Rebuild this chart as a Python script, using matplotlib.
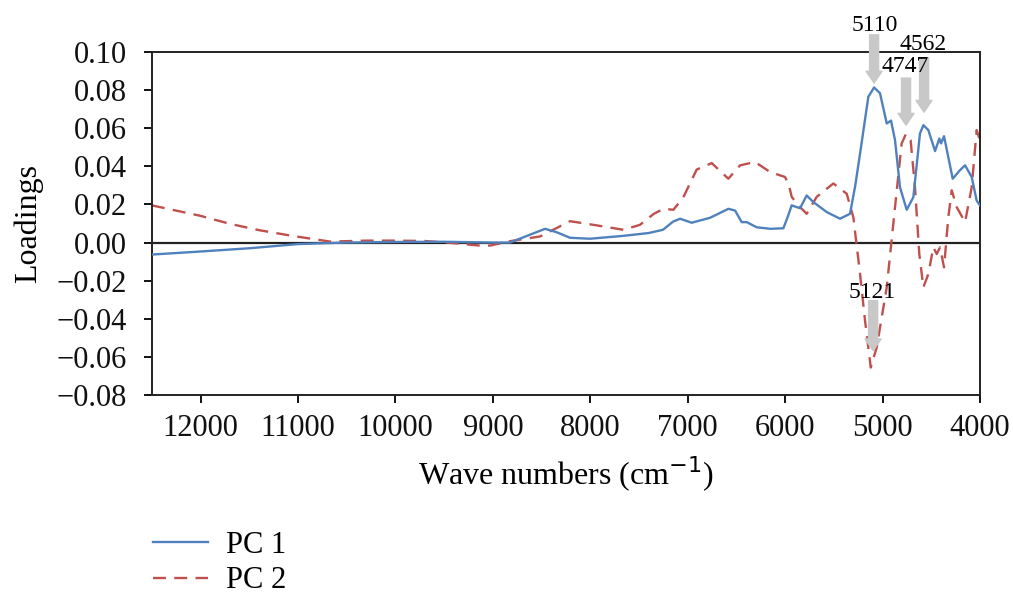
import matplotlib
matplotlib.use("Agg")
import matplotlib.pyplot as plt
from matplotlib.ticker import FuncFormatter

plt.rcParams["font.family"] = ["Liberation Serif", "DejaVu Serif"]

# PC 1 loadings
wn_pc1 = [12500, 12000, 11500, 11000, 10500, 10000, 9500, 9000, 8824, 8650,
          8465, 8350, 8208, 8003, 7664, 7400, 7254, 7150, 7079, 6959,
          6771, 6650, 6583, 6514, 6446, 6394, 6292, 6150, 6018, 5970,
          5933, 5847, 5779, 5710, 5573, 5437, 5334, 5280, 5231, 5146,
          5087, 5026, 4957, 4913, 4872, 4821, 4752, 4684, 4616, 4581,
          4530, 4461, 4417, 4400, 4369, 4280, 4205, 4153, 4085, 4034, 4000]
pc1 = [-0.0063, -0.0047, -0.0030, -0.0008, 0.0000, 0.0003, 0.0004, 0.0000, 0.0000, 0.0035,
       0.0072, 0.0055, 0.0025, 0.0020, 0.0035, 0.0050, 0.0067, 0.0110, 0.0125, 0.0104,
       0.0130, 0.0160, 0.0177, 0.0168, 0.0107, 0.0107, 0.0080, 0.0072, 0.0075, 0.0140,
       0.0195, 0.0180, 0.0247, 0.0212, 0.0160, 0.0125, 0.0151, 0.0300, 0.0467, 0.0765,
       0.0814, 0.0783, 0.0625, 0.0640, 0.0537, 0.0290, 0.0172, 0.0238, 0.0572, 0.0616,
       0.0590, 0.0480, 0.0546, 0.0520, 0.0558, 0.0335, 0.0380, 0.0405, 0.0344, 0.0220, 0.0195]

# PC 2 loadings
wn_pc2 = [12500, 12000, 11699, 11400, 11083, 10672, 10300, 9988, 9700, 9475,
          9132, 9030, 8824, 8516, 8350, 8208, 7969, 7661, 7490, 7350,
          7250, 7147, 7045, 6908, 6754, 6583, 6463, 6309, 6155, 6001,
          5960, 5933, 5864, 5779, 5676, 5505, 5368, 5300, 5231, 5180,
          5121, 5060, 4957, 4872, 4804, 4760, 4712, 4667, 4623, 4581,
          4530, 4479, 4444, 4410, 4369, 4325, 4290, 4239, 4153, 4085, 4034, 4000]
pc2 = [0.0195, 0.0140, 0.0098, 0.0065, 0.0037, 0.0005, 0.0010, 0.0010, 0.0008, 0.0000,
       -0.0016, -0.0016, 0.0007, 0.0032, 0.0075, 0.0112, 0.0093, 0.0067, 0.0093, 0.0150,
       0.0177, 0.0172, 0.0238, 0.0383, 0.0417, 0.0335, 0.0405, 0.0423, 0.0370, 0.0344,
       0.0300, 0.0240, 0.0195, 0.0151, 0.0240, 0.0310, 0.0256, 0.0133, -0.0165, -0.0410,
       -0.0656, -0.0550, -0.0235, 0.0186, 0.0520, 0.0570, 0.0537, 0.0290, -0.0060, -0.0235,
       -0.0165, -0.0025, -0.0060, -0.0025, -0.0130, 0.0133, 0.0274, 0.0186, 0.0107, 0.0290, 0.0590, 0.0537]

# peak labels: text, text position, arrow start, arrow tip
peak_labels = ["5110", "4562", "4747", "5121"]
label_xy = [(5077, 0.1140), (4584, 0.1040), (4769, 0.0925), (5108, -0.0260)]
arrow_start = [(5087, 0.1090), (4574, 0.0970), (4759, 0.0863), (5097, -0.0305)]
arrow_tip = [(5087, 0.0837), (4574, 0.0684), (4759, 0.0616), (5097, -0.0568)]

fig = plt.figure(figsize=(10.13, 5.97), dpi=100)
ax = fig.add_axes([0.150, 0.3384, 0.8174, 0.5745])

ax.axhline(0, color="#222222", lw=1.6, zorder=1)
l1, = ax.plot(wn_pc1, pc1, color="#4f81bd", lw=1.7, label="PC 1", zorder=3)
l2, = ax.plot(wn_pc2, pc2, color="#c0504d", lw=1.7, ls=(0, (5.5, 3.5)), label="PC 2", zorder=2)

for s, t in zip(arrow_start, arrow_tip):
    ax.annotate("", xy=t, xytext=s, annotation_clip=False, zorder=4,
                arrowprops=dict(arrowstyle="simple,head_length=0.85,head_width=1.15,tail_width=0.65",
                                mutation_scale=10, color="#c8c8c8", shrinkA=0, shrinkB=0))
for txt, pos in zip(peak_labels, label_xy):
    ax.text(pos[0], pos[1], txt, ha="center", va="center", fontsize=17, zorder=5, clip_on=False)

ax.set_xlim(12500, 4000)
ax.set_ylim(-0.08, 0.10)
ax.set_xticks(range(12000, 3999, -1000))
ax.set_yticks([-0.08, -0.06, -0.04, -0.02, 0.0, 0.02, 0.04, 0.06, 0.08, 0.10])
ax.yaxis.set_major_formatter(FuncFormatter(lambda v, p: f"{abs(v):.2f}" if abs(v) < 1e-9 else f"{v:.2f}".replace("-", "\u2212")))
ax.tick_params(direction="out", length=6, width=1.4, labelsize=22, colors="#111111")
ax.tick_params(axis="x", pad=8)
ax.tick_params(axis="y", pad=12)
for sp in ax.spines.values():
    sp.set_linewidth(1.4)
    sp.set_color("#222222")

ax.set_xlabel("Wave numbers (cm$^{-1}$)", fontsize=23, labelpad=8)
ax.set_ylabel("Loadings", fontsize=23, labelpad=10)

fig.legend(handles=[l1, l2], loc="upper left", bbox_to_anchor=(0.136, 0.136), frameon=False,
           fontsize=22, handlelength=1.8, handletextpad=0.6, labelspacing=0.2, borderpad=0)

fig.savefig("out.png", dpi=100)
